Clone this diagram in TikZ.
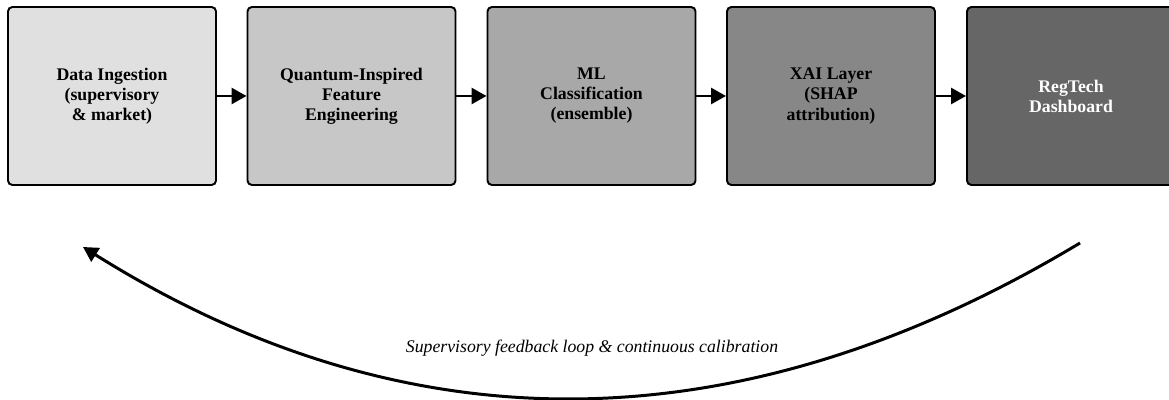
\documentclass[tikz,border=0pt]{standalone}
\usepackage{fontspec}
\setmainfont{Liberation Serif}
\usetikzlibrary{arrows.meta}

\tikzset{
    stage/.style={draw,line width=1.1pt,rounded corners=2.5pt,minimum width=4.16cm,minimum height=3.56cm,
        align=center,font=\fontsize{10.1}{11.4}\selectfont\bfseries},
    flow/.style={line width=1.7pt,-{Triangle[length=8.5pt,width=9pt]}}
}

\begin{document}
\begin{tikzpicture}
            \useasboundingbox (0,0) rectangle (23.38,-8);
            \node[stage,fill=black!12] (ingest) at (2.24,-1.92){Data Ingestion \\ (supervisory \\ \& market)};
            \node[stage,fill=black!22] (feature) at (7.03,-1.92){Quantum-Inspired \\ Feature \\ Engineering};
            \node[stage,fill=black!34] (classify) at (11.83,-1.92){ML \\ Classification \\ (ensemble)};
            \node[stage,fill=black!47] (xai) at (16.62,-1.92){XAI Layer \\ (SHAP \\ attribution)};
            \node[stage,fill=black!60,text=white] (dash) at (21.42,-1.92){RegTech \\ Dashboard};

            \draw[flow] (ingest)--(feature);
            \draw[flow] (feature)--(classify);
            \draw[flow] (classify)--(xai);
            \draw[flow] (xai)--(dash);

            % feedback loop
            \coordinate (loopstart) at (21.6,-4.86);
            \coordinate (loopend) at (1.66,-4.94);
            \draw[flow] (loopstart) .. controls (14.78,-8.96) and (8.14,-9.0) .. (loopend);
            \node[font=\fontsize{10.1}{11}\selectfont\itshape] (looplabel) at (11.84,-6.96){Supervisory feedback loop \& continuous calibration};
        \end{tikzpicture}
\end{document}
